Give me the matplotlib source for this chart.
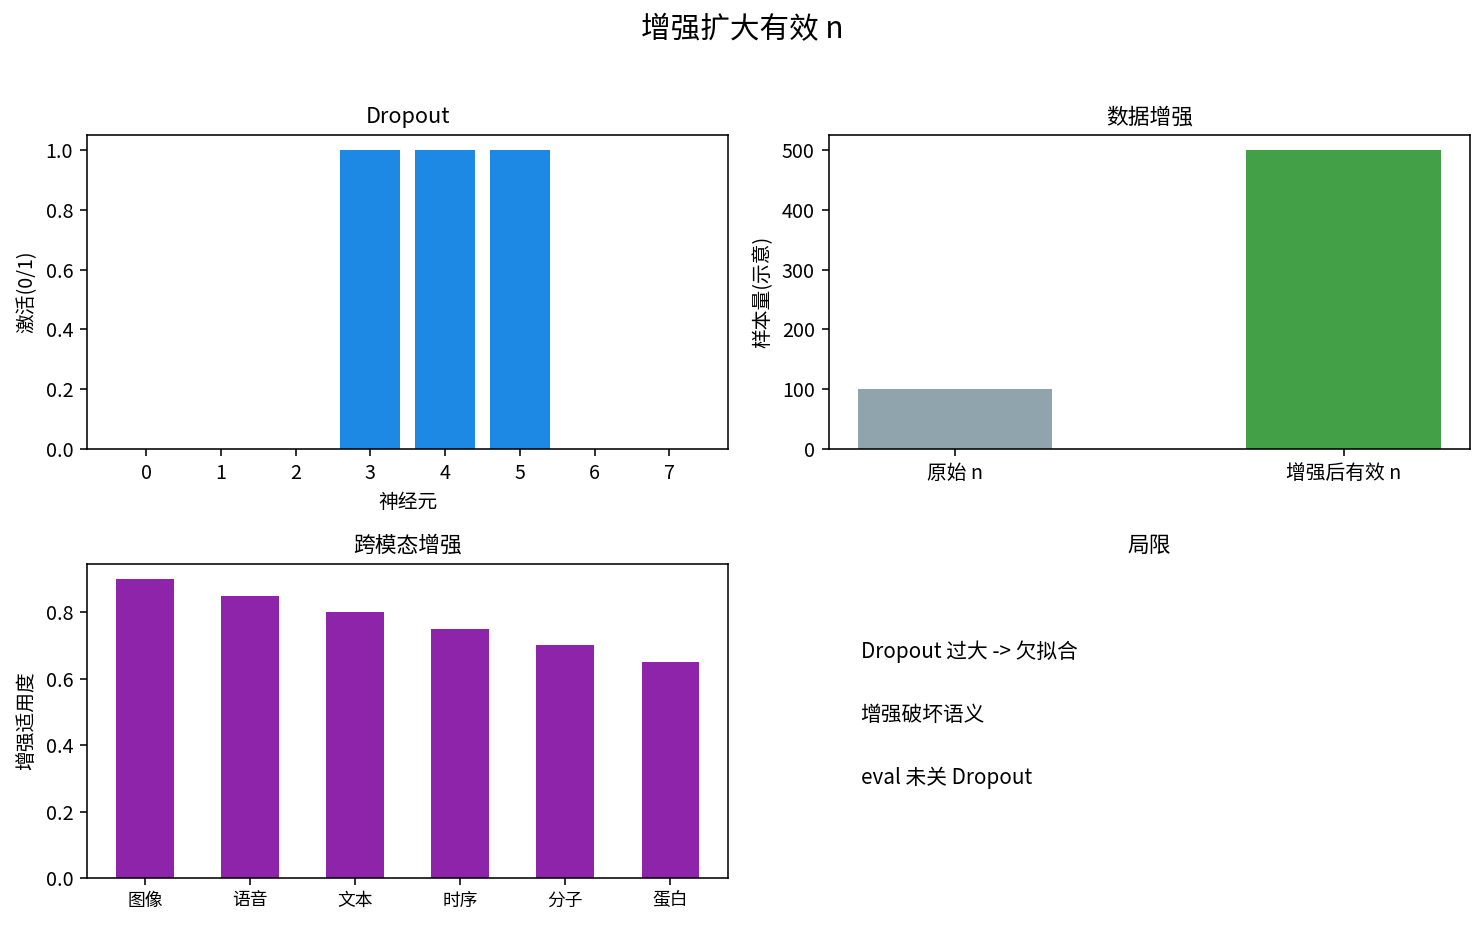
import matplotlib
matplotlib.use("Agg")
import matplotlib.pyplot as plt

plt.rcParams['font.family'] = ['Noto Sans CJK SC', 'DejaVu Sans']
plt.rcParams['axes.unicode_minus'] = False

# Dropout mask
neurons = [0, 1, 2, 3, 4, 5, 6, 7]
active = [0, 0, 0, 1, 1, 1, 0, 0]

# data augmentation
aug_labels = ["原始 n", "增强后有效 n"]
aug_values = [100, 500]
aug_colors = ["#90A4AE", "#43A047"]

# cross-modal
modalities = ["图像", "语音", "文本", "时序", "分子", "蛋白"]
suitability = [0.9, 0.85, 0.8, 0.75, 0.7, 0.65]

limits = ["Dropout 过大 -> 欠拟合", "增强破坏语义", "eval 未关 Dropout"]

dpi = 142
fig, axes = plt.subplots(2, 2, figsize=(1484 / dpi, 925 / dpi), dpi=dpi)
fig.subplots_adjust(left=0.0586, right=0.9906, top=0.854, bottom=0.0508,
                    wspace=0.156, hspace=0.366)
fig.suptitle("增强扩大有效 n", fontsize=15, y=0.985)

ax = axes[0, 0]
ax.bar(neurons, active, color="#1E88E5", width=0.8)
ax.set_title("Dropout", fontsize=11)
ax.set_xlabel("神经元", fontsize=10)
ax.set_ylabel("激活(0/1)", fontsize=10)
ax.set_xticks(neurons)
ax.tick_params(labelsize=10)

ax = axes[0, 1]
ax.bar(range(len(aug_labels)), aug_values, color=aug_colors, width=0.5)
ax.set_xticks(range(len(aug_labels)))
ax.set_xticklabels(aug_labels)
ax.set_title("数据增强", fontsize=11)
ax.set_ylabel("样本量(示意)", fontsize=10)
ax.tick_params(labelsize=10)

ax = axes[1, 0]
ax.bar(range(len(modalities)), suitability, color="#8E24AA", width=0.55)
ax.set_xticks(range(len(modalities)))
ax.set_title("跨模态增强", fontsize=11)
ax.set_ylabel("增强适用度", fontsize=10)
ax.tick_params(labelsize=10)
ax.set_xticklabels(modalities, fontsize=9)

ax = axes[1, 1]
ax.axis("off")
ax.set_title("局限", fontsize=11)
for i, txt in enumerate(limits):
    ax.text(0.05, 0.7 - 0.2 * i, txt, fontsize=10.5, transform=ax.transAxes)

fig.savefig("out.png", dpi=dpi)
